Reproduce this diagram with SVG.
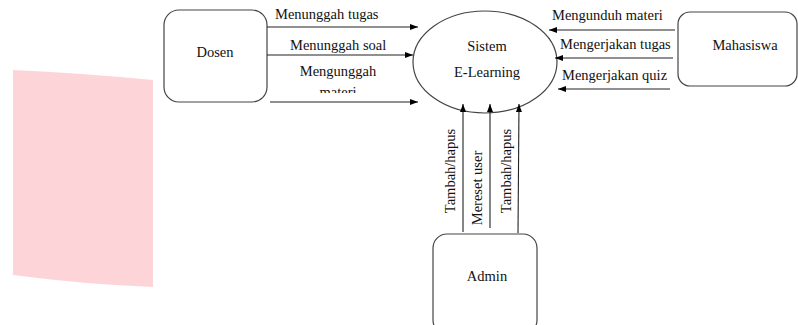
<svg xmlns="http://www.w3.org/2000/svg" width="798" height="325" viewBox="0 0 798 325">
<defs>
<marker id="ah" markerWidth="8" markerHeight="6" refX="8" refY="3" orient="auto" markerUnits="userSpaceOnUse">
<path d="M0,0 L8,3 L0,6 Z" fill="#000"/>
</marker>
<clipPath id="clipMateri"><rect x="260" y="80" width="160" height="13"/></clipPath>
</defs>
<style>
.box{fill:#fff;stroke:#444;stroke-width:1.2}
text{font-family:'Liberation Serif','DejaVu Serif','Times New Roman',serif;font-size:14.5px;fill:#111}
.c{text-anchor:middle}
.ln{stroke:#222;stroke-width:1.1;fill:none;marker-end:url(#ah)}
</style>
<rect width="798" height="325" fill="#fff"/>
<path d="M13,70 Q80,73 153,80 L153,287 Q80,284 13,275 Z" fill="#fdd5d8"/>
<g id="dosen">
<rect class="box" x="164" y="10" width="103" height="92" rx="15"/>
<text class="c" x="215" y="57" font-family="Liberation Serif, serif">Dosen</text>
</g>
<g id="sistem">
<ellipse cx="485" cy="62" rx="72" ry="51" fill="#fff" stroke="#444" stroke-width="1.2"/>
<text class="c" x="487" y="51" font-family="Liberation Serif, serif">Sistem</text>
<text class="c" x="487" y="77" font-family="Liberation Serif, serif">E-Learning</text>
</g>
<g id="mahasiswa">
<rect class="box" x="678" y="12" width="119" height="74" rx="12"/>
<text class="c" x="745" y="50" font-family="Liberation Serif, serif">Mahasiswa</text>
</g>
<g id="admin">
<rect class="box" x="433" y="234" width="104" height="100" rx="14"/>
<text class="c" x="487" y="281" font-family="Liberation Serif, serif">Admin</text>
</g>
<g id="connectors" font-family="Liberation Serif, serif">
<line class="ln" x1="267" y1="27" x2="418" y2="27"/>
<line class="ln" x1="267" y1="55" x2="413" y2="55"/>
<line class="ln" x1="270" y1="102" x2="418" y2="102"/>
<line class="ln" x1="675" y1="30" x2="549" y2="30"/>
<line class="ln" x1="673" y1="58" x2="555" y2="58"/>
<line class="ln" x1="670" y1="89" x2="558" y2="89"/>
<line class="ln" x1="463" y1="232" x2="463" y2="104"/>
<line class="ln" x1="490" y1="228" x2="490" y2="104"/>
<line class="ln" x1="518" y1="233" x2="519" y2="104"/>
<text x="275" y="19">Menunggah tugas</text>
<text x="290" y="50">Menunggah soal</text>
<text class="c" x="338" y="76">Mengunggah</text>
<text class="c" x="338" y="97" clip-path="url(#clipMateri)">materi</text>
<text x="552" y="20">Mengunduh materi</text>
<text x="560" y="49">Mengerjakan tugas</text>
<text x="562" y="80">Mengerjakan quiz</text>
<text class="c" transform="translate(455,171) rotate(-90)">Tambah/hapus</text>
<text class="c" transform="translate(482,188) rotate(-90)">Mereset user</text>
<text class="c" transform="translate(511,171) rotate(-90)">Tambah/hapus</text>
</g>
</svg>
